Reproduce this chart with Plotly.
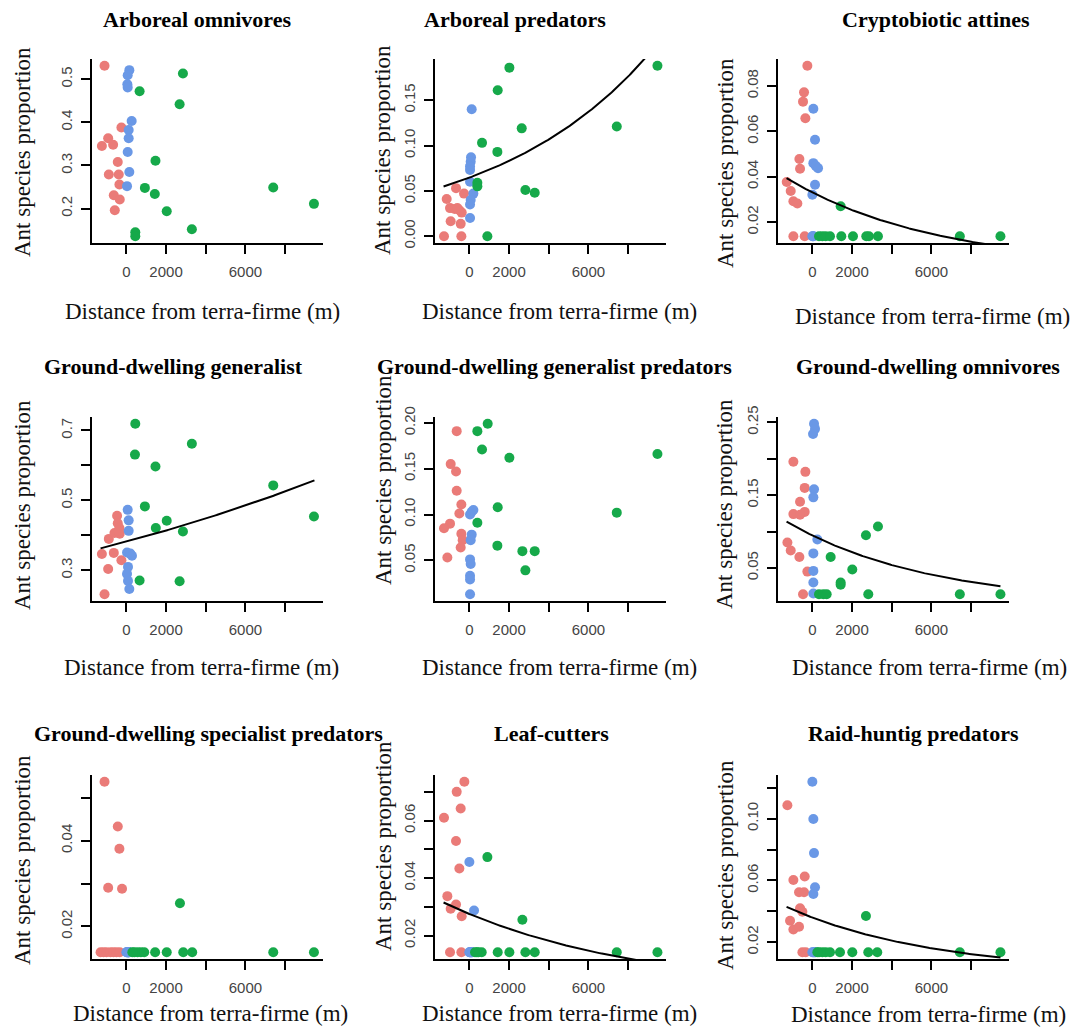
import numpy as np
import plotly.graph_objects as go

W, H = 1089, 1030

# ---------------- data ----------------
titles = ["Arboreal omnivores", "Arboreal predators", "Cryptobiotic attines",
          "Ground-dwelling generalist", "Ground-dwelling generalist predators",
          "Ground-dwelling omnivores", "Ground-dwelling specialist predators",
          "Leaf-cutters", "Raid-huntig predators"]

# 1 Arboreal omnivores
p1_red_x = [-1100, -250, -917, -1233, -667, -433, -883, -383, -350, -633, -333, -583]
p1_red_y = [0.531, 0.388, 0.363, 0.345, 0.348, 0.308, 0.279, 0.279, 0.256, 0.231, 0.221, 0.196]
p1_blue_x = [150, 67, 50, 67, 267, 117, 117, 67, 150, 33]
p1_blue_y = [0.521, 0.509, 0.488, 0.481, 0.403, 0.382, 0.363, 0.331, 0.285, 0.252]
p1_green_x = [2850, 667, 2683, 1467, 933, 1433, 2033, 450, 450, 3300, 7400, 9450]
p1_green_y = [0.513, 0.472, 0.442, 0.311, 0.248, 0.234, 0.194, 0.145, 0.136, 0.152, 0.249, 0.211]

# 2 Arboreal predators
p2_red_x = [-1277, -403, -941, -437, -1142, -672, -269, -974, -739, -504, -386, -605]
p2_red_y = [0.0, 0.0, 0.0165, 0.0136, 0.041, 0.053, 0.047, 0.031, 0.030, 0.0286, 0.026, 0.031]
p2_blue_x = [118, 84, 67, 34, 34, 34, 202, 67, 34, 34]
p2_blue_y = [0.140, 0.087, 0.082, 0.077, 0.073, 0.060, 0.047, 0.040, 0.035, 0.020]
p2_green_x = [2016, 1428, 2638, 638, 1411, 403, 403, 2822, 3293, 907, 7426, 9475]
p2_green_y = [0.186, 0.161, 0.119, 0.103, 0.093, 0.059, 0.055, 0.051, 0.048, 0.0, 0.121, 0.188]

# 3 Cryptobiotic attines
p3_red_x = [-252, -419, -470, -352, -654, -620, -1291, -1090, -956, -755, -956, -386]
p3_red_y = [0.0889, 0.0772, 0.0731, 0.0658, 0.0478, 0.0435, 0.0377, 0.0337, 0.0292, 0.0282, 0.0138, 0.0138]
p3_blue_x = [50, 134, 50, 168, 285, 134, 0, 0, 30, 60]
p3_blue_y = [0.070, 0.0563, 0.046, 0.0448, 0.0438, 0.0365, 0.0321, 0.0138, 0.0138, 0.0138]
p3_green_x = [1425, 335, 503, 671, 889, 1459, 2046, 2717, 2851, 3304, 7429, 9475]
p3_green_y = [0.027, 0.0138, 0.0138, 0.0138, 0.0138, 0.0138, 0.0138, 0.0138, 0.0138, 0.0138, 0.0138, 0.0138]

# 4 Ground-dwelling generalist
p4_red_x = [-1100, -1233, -917, -633, -250, -883, -467, -433, -350, -600, -333, -383]
p4_red_y = [0.232, 0.347, 0.304, 0.350, 0.329, 0.390, 0.456, 0.435, 0.421, 0.407, 0.405, 0.413]
p4_blue_x = [67, 117, 117, 33, 200, 283, 83, 33, 83, 150]
p4_blue_y = [0.473, 0.443, 0.413, 0.351, 0.348, 0.342, 0.310, 0.290, 0.270, 0.247]
p4_green_x = [450, 433, 1467, 3300, 933, 1483, 2033, 2850, 667, 2683, 7400, 9450]
p4_green_y = [0.719, 0.631, 0.597, 0.662, 0.483, 0.421, 0.442, 0.411, 0.271, 0.269, 0.543, 0.454]

# 5 Ground-dwelling generalist predators
p5_red_x = [-638, -941, -672, -638, -403, -504, -974, -1277, -403, -336, -437, -1109]
p5_red_y = [0.191, 0.155, 0.147, 0.126, 0.111, 0.101, 0.090, 0.085, 0.079, 0.072, 0.064, 0.053]
p5_blue_x = [118, 202, 34, 118, 67, 34, 67, 34, 34, 34]
p5_blue_y = [0.103, 0.105, 0.100, 0.078, 0.072, 0.051, 0.046, 0.033, 0.029, 0.013]
p5_green_x = [924, 403, 638, 2016, 1428, 403, 1411, 2671, 3293, 2822, 7426, 9475]
p5_green_y = [0.199, 0.191, 0.171, 0.162, 0.108, 0.091, 0.066, 0.060, 0.060, 0.039, 0.102, 0.166]

# 6 Ground-dwelling omnivores
p6_red_x = [-956, -352, -386, -620, -386, -956, -620, -1258, -1090, -654, -252, -470]
p6_red_y = [0.196, 0.182, 0.160, 0.141, 0.127, 0.124, 0.123, 0.085, 0.074, 0.065, 0.045, 0.014]
p6_blue_x = [84, 134, 34, 84, 50, 252, 50, 50, 50, 50]
p6_blue_y = [0.248, 0.241, 0.234, 0.158, 0.147, 0.089, 0.070, 0.046, 0.030, 0.015]
p6_green_x = [922, 2012, 1425, 1425, 2700, 3304, 335, 553, 721, 2817, 7429, 9475]
p6_green_y = [0.065, 0.048, 0.030, 0.027, 0.095, 0.107, 0.014, 0.014, 0.014, 0.014, 0.014, 0.014]

# 7 Ground-dwelling specialist predators
p7_red_x = [-1100, -433, -350, -917, -217, -1300, -1150, -1000, -800, -650, -500, -333]
p7_red_y = [0.0537, 0.0433, 0.0381, 0.0290, 0.0288, 0.014, 0.014, 0.014, 0.014, 0.014, 0.014, 0.014]
p7_blue_x = [0, 30, 60, 90, 120, 150, 40, 80, 100, 130]
p7_blue_y = [0.014, 0.014, 0.014, 0.014, 0.014, 0.014, 0.014, 0.014, 0.014, 0.014]
p7_green_x = [2700, 400, 567, 733, 900, 1450, 2033, 2867, 3317, 7400, 9450, 300]
p7_green_y = [0.0254, 0.014, 0.014, 0.014, 0.014, 0.014, 0.014, 0.014, 0.014, 0.014, 0.014, 0.014]

# 8 Leaf-cutters
p8_red_x = [-252, -638, -437, -1277, -672, -504, -1109, -672, -941, -386, -974, -403]
p8_red_y = [0.0735, 0.070, 0.0642, 0.0610, 0.0529, 0.0433, 0.0337, 0.0308, 0.0293, 0.0267, 0.0142, 0.0142]
p8_blue_x = [0, 235, 0, 40, 80, 120, 160, 60, 100, 20]
p8_blue_y = [0.0456, 0.0287, 0.0142, 0.0142, 0.0142, 0.0142, 0.0142, 0.0142, 0.0142, 0.0142]
p8_green_x = [907, 2671, 286, 454, 622, 1428, 2016, 2822, 3293, 7426, 9475, 380]
p8_green_y = [0.0473, 0.0255, 0.0142, 0.0142, 0.0142, 0.0142, 0.0142, 0.0142, 0.0142, 0.0142, 0.0142, 0.0142]

# 9 Raid-huntig predators
p9_red_x = [-1258, -956, -386, -671, -419, -620, -503, -1124, -956, -671, -503, -335]
p9_red_y = [0.1087, 0.0603, 0.0625, 0.0523, 0.0523, 0.0419, 0.0397, 0.0339, 0.0282, 0.030, 0.0135, 0.0135]
p9_blue_x = [0, 50, 84, 134, 50, 0, 40, 80, 120, 160]
p9_blue_y = [0.1239, 0.0998, 0.0777, 0.0556, 0.0512, 0.0135, 0.0135, 0.0135, 0.0135, 0.0135]
p9_green_x = [2700, 335, 503, 671, 889, 1392, 2012, 2817, 3270, 7429, 9475, 250]
p9_green_y = [0.0369, 0.0135, 0.0135, 0.0135, 0.0135, 0.0135, 0.0135, 0.0135, 0.0135, 0.0135, 0.0135, 0.0135]

# fitted exponential curves: y = fit_y0 * exp(fit_rate * x); None = no curve
fit_y0 = [None, 0.0646, 0.0331, 0.3823, None, 0.0947, None, 0.0275, 0.03595]
fit_rate = [None, 1.2546e-4, -1.34e-4, 3.98e-5, None, -1.4055e-4, None, -1.044e-4, -1.35e-4]

# y tick values / labels per panel
y_tickvals = [
    [0.2, 0.3, 0.4, 0.5],
    [0.0, 0.05, 0.10, 0.15],
    [0.02, 0.04, 0.06, 0.08],
    [0.3, 0.4, 0.5, 0.6, 0.7],
    [0.05, 0.10, 0.15, 0.20],
    [0.05, 0.10, 0.15, 0.20, 0.25],
    [0.02, 0.03, 0.04, 0.05],
    [0.02, 0.03, 0.04, 0.05, 0.06, 0.07],
    [0.02, 0.04, 0.06, 0.08, 0.10, 0.12],
]
y_ticktext = [
    ["0.2", "0.3", "0.4", "0.5"],
    ["0.00", "0.05", "0.10", "0.15"],
    ["0.02", "0.04", "0.06", "0.08"],
    ["0.3", "", "0.5", "", "0.7"],
    ["0.05", "0.10", "0.15", "0.20"],
    ["0.05", "", "0.15", "", "0.25"],
    ["0.02", "", "0.04", ""],
    ["0.02", "", "0.04", "", "0.06", ""],
    ["0.02", "", "0.06", "", "0.10", ""],
]
x_tickvals = [0, 2000, 4000, 6000, 8000]
x_ticktext = ["0", "2000", "", "6000", ""]

group_colors = ["#EA7B78", "#6A98E6", "#16A94A"]

panels = [
    (p1_red_x, p1_red_y, p1_blue_x, p1_blue_y, p1_green_x, p1_green_y),
    (p2_red_x, p2_red_y, p2_blue_x, p2_blue_y, p2_green_x, p2_green_y),
    (p3_red_x, p3_red_y, p3_blue_x, p3_blue_y, p3_green_x, p3_green_y),
    (p4_red_x, p4_red_y, p4_blue_x, p4_blue_y, p4_green_x, p4_green_y),
    (p5_red_x, p5_red_y, p5_blue_x, p5_blue_y, p5_green_x, p5_green_y),
    (p6_red_x, p6_red_y, p6_blue_x, p6_blue_y, p6_green_x, p6_green_y),
    (p7_red_x, p7_red_y, p7_blue_x, p7_blue_y, p7_green_x, p7_green_y),
    (p8_red_x, p8_red_y, p8_blue_x, p8_blue_y, p8_green_x, p8_green_y),
    (p9_red_x, p9_red_y, p9_blue_x, p9_blue_y, p9_green_x, p9_green_y),
]

# ---------------- layout geometry (pixels) ----------------
col_left = [92, 435, 778]
row_top = [59, 417, 775]
pw, ph = 231, 184

title_pos = [(197, 20), (515, 20), (936, 20),
             (173, 366), (554, 366), (928, 366),
             (209, 733), (551, 733), (913, 733)]
ylab_pos = [(22, 152), (383, 150), (725, 163),
            (22, 505), (383, 480), (725, 504),
            (22, 860), (383, 846), (725, 865)]
xlab_pos = [(202, 312), (559, 312), (932, 316),
            (201, 667), (559, 667), (929, 667),
            (210, 1013), (559, 1013), (928, 1014)]

def px(x):
    return x / W

def py(y):
    return 1 - y / H

# shared x range (R-style 4% padding)
all_x = np.concatenate([np.concatenate([p[0], p[2], p[4]]) for p in panels])
xr = all_x.max() - all_x.min()
x_range = [all_x.min() - 0.04 * xr, all_x.max() + 0.04 * xr]

fig = go.Figure()
layout = dict(width=W, height=H, autosize=False, margin=dict(l=0, r=0, t=0, b=0, pad=0),
              paper_bgcolor="white", plot_bgcolor="white", showlegend=False)
annotations = []

serif = "Liberation Serif"
sans = "Liberation Sans"

for i, p in enumerate(panels):
    r, c = divmod(i, 3)
    ax = "" if i == 0 else str(i + 1)
    xa, ya = "x" + ax, "y" + ax
    L, T = col_left[c], row_top[r]
    dom_x = [px(L), px(L + pw)]
    dom_y = [py(T + ph), py(T)]

    ys = np.concatenate([p[1], p[3], p[5]])
    yr = ys.max() - ys.min()
    y_range = [ys.min() - 0.04 * yr, ys.max() + 0.04 * yr]

    for k in range(3):
        fig.add_trace(go.Scatter(
            x=p[2 * k], y=p[2 * k + 1], mode="markers", xaxis=xa, yaxis=ya,
            marker=dict(size=10, color=group_colors[k], line=dict(width=0)),
            hoverinfo="skip"))

    if fit_y0[i] is not None:
        xs = np.linspace(all_x.min(), all_x.max(), 200)
        fig.add_trace(go.Scatter(
            x=xs, y=fit_y0[i] * np.exp(fit_rate[i] * xs), mode="lines",
            xaxis=xa, yaxis=ya, line=dict(color="black", width=2),
            hoverinfo="skip"))

    axis_common = dict(showline=True, linecolor="black", linewidth=2,
                       ticks="outside", ticklen=9, tickwidth=2, tickcolor="black",
                       showgrid=False, zeroline=False, automargin=False,
                       tickfont=dict(family=sans, size=15, color="#444"))
    layout["xaxis" + ax] = dict(domain=dom_x, range=x_range, anchor=ya,
                                tickmode="array", tickvals=x_tickvals,
                                ticktext=x_ticktext, ticklabelstandoff=5,
                                **axis_common)
    layout["yaxis" + ax] = dict(domain=dom_y, range=y_range, anchor=xa,
                                tickmode="array", tickvals=y_tickvals[i],
                                ticktext=y_ticktext[i], tickangle=-90,
                                ticklabelstandoff=3, **axis_common)

    tx, ty = title_pos[i]
    annotations.append(dict(text="<b>" + titles[i] + "</b>", x=px(tx), y=py(ty),
                            xref="paper", yref="paper", showarrow=False,
                            xanchor="center", yanchor="middle",
                            font=dict(family=serif, size=22, color="black")))
    lx, ly = ylab_pos[i]
    annotations.append(dict(text="Ant species proportion", x=px(lx), y=py(ly),
                            xref="paper", yref="paper", showarrow=False,
                            textangle=-90, xanchor="center", yanchor="middle",
                            font=dict(family=serif, size=23, color="#111")))
    bx, by = xlab_pos[i]
    annotations.append(dict(text="Distance from terra-firme (m)", x=px(bx), y=py(by),
                            xref="paper", yref="paper", showarrow=False,
                            xanchor="center", yanchor="middle",
                            font=dict(family=serif, size=23, color="#111")))

layout["annotations"] = annotations
fig.update_layout(**layout)

fig.write_html("out.html", config={"displayModeBar": False, "responsive": False},
               default_width="1089px", default_height="1030px",
               post_script="document.body.style.margin='0';")
